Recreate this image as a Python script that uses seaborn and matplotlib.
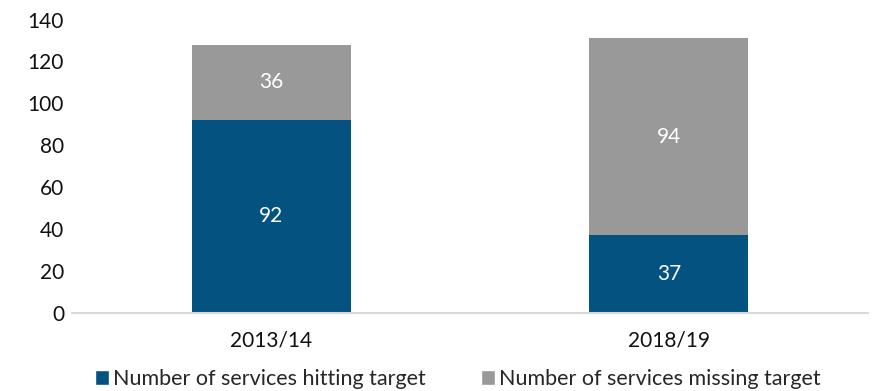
import matplotlib
matplotlib.use("Agg")
import matplotlib.pyplot as plt
import seaborn as sns
import pandas as pd
from matplotlib.patches import Patch

years = ["2013/14", "2018/19"]
hitting = [92, 37]
missing = [36, 94]
series_names = ["Number of services hitting target", "Number of services missing target"]
colors = ["#03527F", "#999999"]

sns.set_theme(style="white")
plt.rcParams["font.family"] = ["Lato", "DejaVu Sans"]

df = pd.DataFrame({"year": years, "hitting": hitting, "missing": missing})
df["total"] = df["hitting"] + df["missing"]

fig, ax = plt.subplots(figsize=(8.72, 3.91), dpi=100)
fig.subplots_adjust(left=0.083, right=0.995, top=0.95, bottom=0.2)

# stacked bars: total in grey underneath, hitting in blue on top
sns.barplot(data=df, x="year", y="total", color=colors[1], width=0.4, ax=ax,
            saturation=1, linewidth=0)
sns.barplot(data=df, x="year", y="hitting", color=colors[0], width=0.4, ax=ax,
            saturation=1, linewidth=0)

for i, (h, m) in enumerate(zip(hitting, missing)):
    ax.text(i, h / 2, str(h), ha="center", va="center", color="white", fontsize=15)
    ax.text(i, h + m / 2, str(m), ha="center", va="center", color="white", fontsize=15)

ax.set_xlim(-0.5, 1.5)
ax.set_ylim(0, 140)
ax.set_yticks(range(0, 141, 20))
ax.set_xlabel("")
ax.set_ylabel("")
ax.tick_params(axis="both", labelsize=15, colors="#111111", length=0)
ax.tick_params(axis="x", pad=13)
ax.tick_params(axis="y", pad=6)
for side in ["left", "right", "top"]:
    ax.spines[side].set_visible(False)
ax.spines["bottom"].set_color("#D9D9D9")
ax.spines["bottom"].set_linewidth(1.5)

handles = [Patch(facecolor=c, label=n) for c, n in zip(colors, series_names)]
fig.legend(handles=handles, loc="lower center", bbox_to_anchor=(0.525, -0.045), ncol=2,
           frameon=False, fontsize=15.5, handlelength=0.65, handleheight=0.65,
           handletextpad=0.15, columnspacing=2.6)

fig.savefig("out.png", dpi=100)
